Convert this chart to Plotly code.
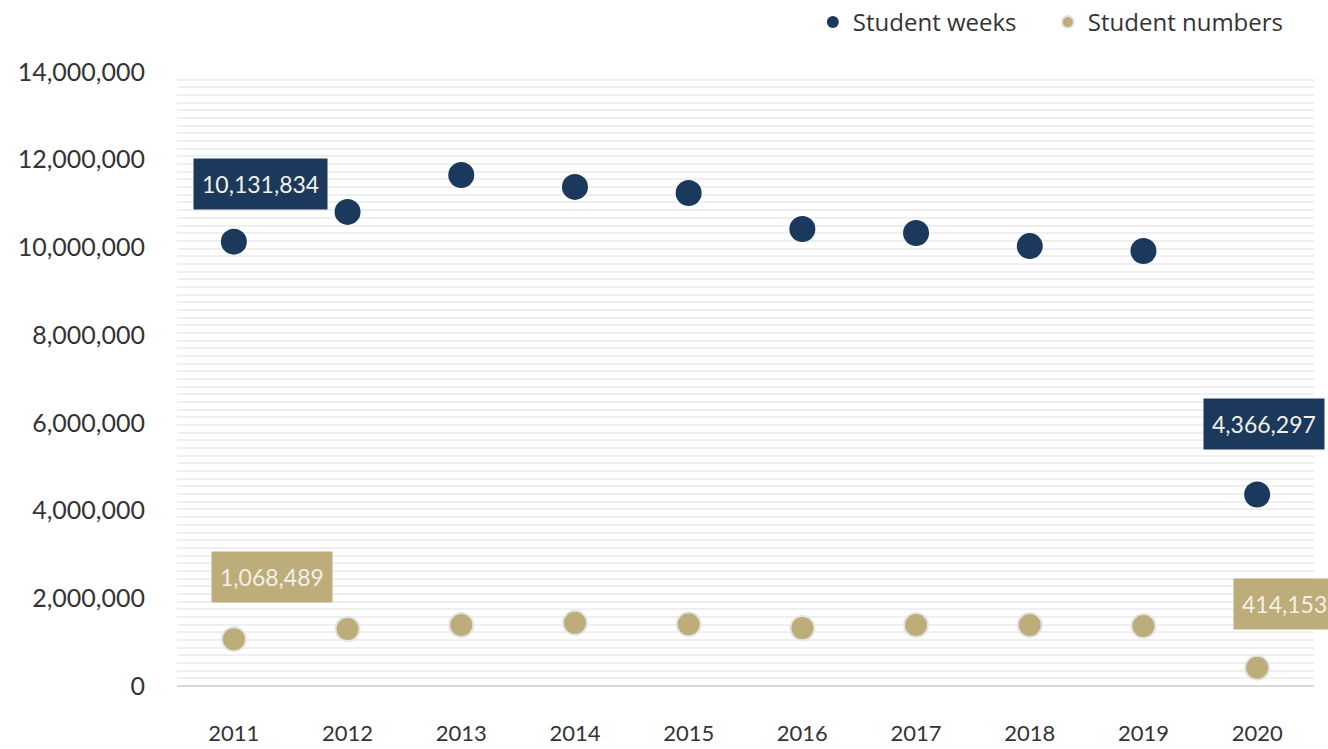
import plotly.graph_objects as go

years = ["2011", "2012", "2013", "2014", "2015", "2016", "2017", "2018", "2019", "2020"]
student_weeks = [10131834, 10810000, 11650000, 11380000, 11240000, 10420000, 10330000, 10030000, 9920000, 4366297]
student_numbers = [1068489, 1300000, 1390000, 1440000, 1410000, 1320000, 1390000, 1390000, 1370000, 414153]

NAVY = "#1b385d"
TAN = "#bdad7a"
FONT = "Lato"

fig = go.Figure()
# invisible carrier for the fine gridline axis
fig.add_trace(go.Scatter(x=[], y=[], yaxis="y2", showlegend=False, hoverinfo="skip"))
fig.add_trace(go.Scatter(
    x=years, y=student_weeks, mode="markers", name="Student weeks",
    marker=dict(color=NAVY, size=26, line=dict(width=0)),
))
fig.add_trace(go.Scatter(
    x=years, y=student_numbers, mode="markers", name="Student numbers",
    marker=dict(color=TAN, size=24, line=dict(width=2, color="#e4e4e4")),
))

def label(i, series, color, xshift, yshift):
    # category axis: position annotations by category index
    fig.add_annotation(
        x=i, y=series[i], xref="x", yref="y", text=f"{series[i]:,}", showarrow=False,
        xshift=xshift, yshift=yshift, bgcolor=color, borderpad=8,
        height=34,
        font=dict(family=FONT, size=23, color="#f3f0e6"),
    )

label(0, student_weeks, NAVY, 27, 58)
label(9, student_weeks, NAVY, 7, 71)
label(0, student_numbers, TAN, 38, 62)
label(9, student_numbers, TAN, 27, 64)

fig.update_layout(
    width=1328, height=749,
    margin=dict(l=177, r=14, t=72, b=63, autoexpand=False),
    plot_bgcolor="white", paper_bgcolor="white",
    font=dict(family=FONT, color="#333333"),
    showlegend=True,
    legend=dict(
        orientation="h", x=0.966, xanchor="right", y=1.0, yanchor="top",
        yref="container", xref="container",
        font=dict(family="Open Sans", size=24, color="#333333"),
        itemsizing="constant", entrywidth=190, entrywidthmode="pixels",
    ),
    xaxis=dict(
        type="category",
        range=[-0.5, 9.5], showgrid=False, showline=False, zeroline=False,
        tickfont=dict(size=22, family=FONT, color="#333333"),
        ticks="outside", ticklen=28, tickcolor="rgba(0,0,0,0)",
    ),
    yaxis=dict(
        range=[0, 14000000], dtick=2000000, tickformat=",d",
        showgrid=False, zeroline=True, zerolinecolor="#d8d8d8", zerolinewidth=2,
        showline=False,
        ticks="outside", ticklen=26, tickcolor="rgba(0,0,0,0)",
        tickfont=dict(size=25, family=FONT, color="#333333"),
    ),
    yaxis2=dict(
        overlaying="y", side="right", range=[0, 14000000], dtick=175000, tick0=0,
        showgrid=True, gridcolor="#efefef", gridwidth=2, zeroline=False,
        showticklabels=False, ticks="", showline=False,
    ),
)

fig.write_html("out.html", config={"displayModeBar": False},
               post_script="document.body.style.margin='0';")
